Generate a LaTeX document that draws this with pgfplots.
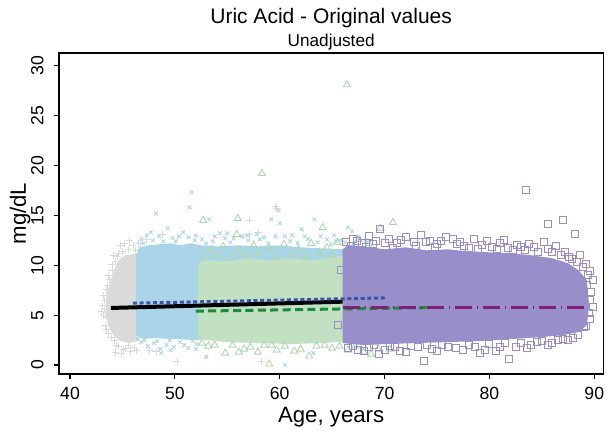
\documentclass[border=0pt]{standalone}
\usepackage{pgfplots}
\pgfplotsset{compat=1.18}
\usepackage{fontspec}
\setmainfont{Liberation Sans}
\definecolor{cgray}{RGB}{218,218,218}
\definecolor{cblue}{RGB}{170,213,232}
\definecolor{cgreen}{RGB}{194,224,194}
\definecolor{cgreenm}{RGB}{175,215,175}
\definecolor{cpurple}{RGB}{152,143,202}
\definecolor{lblue}{RGB}{58,84,168}
\definecolor{lgreen}{RGB}{26,138,60}
\definecolor{lpurple}{RGB}{126,32,118}
\begin{document}
\begin{tikzpicture}
\path[use as bounding box] (0,0) rectangle (306pt,218pt);
\begin{axis}[
  at={(29.5pt,31pt)}, anchor=south west,
  scale only axis, width=272.15pt, height=160.5pt,
  xmin=38.95, xmax=90.86, ymin=-0.9, ymax=31.28,
  clip mode=individual,
  xtick={40,50,60,70,80,90}, ytick={0,5,10,15,20,25,30},
  tick align=outside, xtick pos=bottom, ytick pos=left,
  major tick length=2.5pt,
  axis line style={line width=0.6pt},
  every tick/.style={black, line width=0.6pt},
  /pgf/number format/assume math mode=true,
  xticklabel style={font=\fontsize{8.8}{10}\selectfont, anchor=base, yshift=-10pt},
  yticklabel style={font=\fontsize{8.8}{10}\selectfont, xshift=-5.3pt, rotate=90, anchor=base},
  xlabel={Age, years}, ylabel={mg/dL},
  xlabel style={font=\fontsize{11.1}{13}\selectfont, at={(axis description cs:0.5,-0.1505)}, anchor=base},
  ylabel style={font=\fontsize{11.1}{13}\selectfont, at={(axis description cs:-0.061,0.5)}, anchor=base},
]
% dense cores
\addplot[draw=none, fill=cgray] coordinates {(43.4,5.8) (43.5,7.2) (43.9,8.5) (44.3,9.8) (44.7,10.6) (45.3,11.0) (46.5,11.2) (46.5,2.4) (45.6,2.2) (44.8,2.4) (44.2,2.9) (43.7,3.8) (43.4,4.8)};
\addplot[only marks, mark=+, mark size=1.75pt, color=cgray, line width=0.4pt] coordinates {
(43.3,6.5) (43.2,5.0) (43.4,4.0) (43.5,7.6) (43.8,8.6) (44.0,9.5) (44.3,10.4) (44.6,11.2) (44.8,12.0) (45.2,12.2) (45.6,11.6) (46.0,12.0) (46.5,12.2) (44.2,2.5) (44.6,1.9) (45.1,1.6) (45.6,2.0) (46.1,1.8) (43.7,3.2) (44.3,1.3) (45.3,1.7) (47.6,1.5) (48.2,1.4) (50.2,0.4) (58.3,0.4) (57.1,14.5) (59.7,15.7) (57.1,13.1) (48.8,13.1) (46.7,12.2) (47.3,12.6) (43.9,7.0) (43.6,4.8) (44.1,11.0) (45.0,11.4) (43.3,5.6) (44.9,1.2) (59.6,15.9) (58.0,13.3)
(43.1,6.0) (43.2,7.0) (43.6,8.0) (43.5,3.6) (43.9,2.8) (44.4,2.0) (45.8,1.4) (46.3,1.5) (44.5,10.9) (43.7,9.0) (45.7,12.5) (46.2,11.5) (43.0,5.4) (44.0,10.1)};
\addplot[draw=none, fill=cblue] coordinates {(46.3,11.0) (46.6,11.8) (47.5,12.0) (48.5,12.1) (49.5,12.2) (50.5,12.0) (51.5,12.2) (52.5,12.0) (54,11.9) (56,12.0) (58,11.9) (60,12.0) (62,11.8) (64,11.7) (66,11.6) (67,11.0) (67,3.0) (60,3.0) (53,2.6) (52,2.5) (50,2.6) (48,2.7) (47,2.6) (46.3,3.0)};
\addplot[only marks, mark=x, mark size=1.3pt, color=cblue, line width=0.45pt] coordinates {
(46.8,12.6) (47.3,13.0) (47.9,12.5) (48.5,12.9) (49.3,13.7) (49.8,12.7) (50.8,13.3) (51.3,12.8) (52.0,13.0) (52.6,12.6) (53.3,14.6) (53.8,12.9) (54.3,13.2) (55.0,13.2) (55.6,12.7) (56.4,12.9) (57.0,12.5) (57.8,13.1) (58.5,12.8) (59.2,14.6) (59.9,15.5) (60.0,14.2) (60.5,12.9) (61.2,13.0) (62.1,13.6) (62.7,12.6) (63.3,14.6) (63.9,12.9) (64.5,12.6) (65.2,13.0) (65.8,12.5) (66.5,13.8) (66.9,13.4) (67.5,12.8) (68.2,12.5) (48.2,15.2) (51.4,15.8) (51.6,17.3) (47.0,12.2) (50.1,12.4) (55.3,12.3) (61.7,12.2) (64.9,12.1) (53.0,12.2) (58.9,12.2)
(47.7,13.3) (48.9,12.4) (50.4,12.9) (51.9,12.5) (53.6,12.4) (54.8,12.7) (56.9,13.0) (58.1,12.6) (59.6,12.9) (61.0,12.4) (62.4,12.9) (63.6,12.3) (65.4,12.4) (66.2,12.3) (67.0,12.1)
(46.8,2.3) (47.4,1.9) (48.0,2.2) (48.6,1.6) (49.2,2.0) (49.9,1.8) (50.5,2.3) (51.3,1.7) (52.1,2.1) (48.7,1.2) (46.5,2.6) (60.5,0.0) (53.0,0.8) (63.2,1.2) (51.7,2.4) (49.5,2.5) (47.1,2.5) (48.3,2.4) (49.6,1.5) (50.9,2.0) (52.0,1.6)};
\addplot[draw=none, fill=cgreen] coordinates {(52.2,2.8) (52.2,10.2) (53,10.5) (55,10.4) (57,10.7) (59,10.5) (61,10.7) (63,10.5) (65,10.8) (66.5,11.0) (66.5,2.4) (64,2.2) (61,2.1) (58,2.2) (55,2.3) (53,2.5)};
\addplot[only marks, mark=triangle, mark size=2pt, color=cgreenm, line width=0.45pt] coordinates {
(52.7,14.5) (55.9,13.1) (56.0,14.7) (58.3,19.2) (64.1,13.8) (66.4,28.1) (70.8,14.3) (69.6,13.7) (73.2,11.4) (53.5,11.6) (54.6,11.9) (56.2,11.5) (57.5,12.0) (59.0,11.7) (60.4,12.1) (61.8,11.6) (63.0,12.2) (64.5,11.8) (65.5,12.3) (67.5,12.6) (68.5,12.2)
(52.8,10.8) (54.0,11.0) (55.2,10.7) (56.8,11.0) (58.0,11.2) (59.6,10.9) (61.2,11.1) (62.4,10.8) (63.8,11.2) (65.0,11.0) (66.2,11.3)
(54.8,1.2) (56.1,1.3) (59.0,0.1) (59.7,1.5) (53.2,1.9) (55.5,2.0) (57.2,1.8) (58.5,2.0) (60.5,1.9) (62.0,1.6) (63.5,1.9) (65.0,1.7) (66.5,1.5) (68.0,1.3) (68.7,1.1) (70.5,1.6) (62.8,0.9) (52.6,2.2)
(53.8,2.0) (56.6,1.6) (57.9,1.3) (59.2,2.0) (61.4,1.4) (64.3,2.0) (65.7,1.9) (67.2,1.9) (69.4,1.6)};
\addplot[draw=none, fill=cpurple] coordinates {(66.0,2.2) (66.0,11.6) (66.5,12.0) (68,11.9) (70,11.6) (72,11.8) (74,11.5) (76,11.6) (78,11.4) (80,11.3) (82,11.2) (84,11.0) (86,10.7) (87.5,10.2) (88.5,9.5) (89.3,8.5) (89.5,6) (89.3,4.0) (88.5,3.3) (87,3.0) (85,2.8) (82,2.6) (79,2.4) (76,2.3) (73,2.2) (70,2.1) (68,2.0)};
\addplot[only marks, mark=square, mark size=1.75pt, color=cpurple, line width=0.45pt] coordinates {
(66.3,12.3) (67.0,12.6) (67.8,12.2) (68.5,12.9) (69.2,12.4) (69.6,13.6) (70.4,12.6) (71.2,12.2) (72.0,12.8) (72.8,12.3) (73.5,13.0) (74.3,12.4) (75.0,12.1) (75.9,12.8) (76.5,12.6) (76.9,12.1) (77.6,11.9) (78.5,12.6) (79.3,12.0) (80.2,11.8) (81.0,12.2) (81.8,11.7) (82.6,12.0) (83.5,17.6) (83.4,11.5) (84.2,11.8) (85.2,12.3) (85.6,14.1) (86.0,11.3) (86.8,11.0) (87.0,14.5) (87.6,10.8) (88.2,13.1) (88.3,10.3) (88.9,9.8) (89.6,9.4) (89.9,8.5) (89.7,7.3) (89.9,5.8) (89.6,4.6) (89.0,3.8) (88.8,4.4)
(66.8,11.9) (67.4,12.4) (68.2,11.8) (68.9,12.1) (70.0,12.2) (70.8,11.7) (71.6,12.5) (73.0,11.9) (73.9,12.3) (74.8,11.8) (75.4,12.4) (77.2,12.3) (78.0,11.7) (78.9,11.6) (79.8,12.4) (80.7,11.6) (81.4,12.5) (82.2,11.5) (83.0,11.8) (83.8,12.1) (84.6,11.3) (85.6,11.6) (86.3,11.9) (87.2,11.3) (87.9,10.6) (88.6,11.0) (89.2,10.1) (89.4,9.0) (89.3,8.0) (89.6,6.5) (89.5,5.2) (89.2,3.9)
(66.5,1.7) (67.5,1.5) (68.5,1.8) (69.5,1.1) (70.5,1.9) (71.5,1.4) (72.5,1.9) (73.8,0.4) (74.5,1.6) (75.5,2.0) (76.8,1.7) (78.0,2.0) (79.1,1.2) (80.0,2.1) (81.0,1.8) (81.9,0.6) (83.0,2.2) (84.0,2.0) (85.0,2.4) (86.0,2.2) (87.0,2.6) (88.0,2.7) (65.6,4.0) (65.8,9.5)
(67.0,1.9) (68.0,1.4) (69.0,2.0) (70.0,1.5) (71.0,1.8) (72.0,1.3) (73.2,1.8) (74.0,2.0) (75.0,1.4) (76.0,1.8) (77.5,1.5) (78.6,1.8) (79.6,1.5) (80.6,1.4) (81.5,2.2) (82.5,1.8) (83.6,1.7) (84.5,2.3) (85.6,2.0) (86.5,2.5) (87.5,2.5) (88.4,3.0)};
% fitted lines
\addplot[black, line width=2pt] coordinates {(43.9,5.72) (66.0,6.35)};
\addplot[lblue, line width=1.5pt, dash pattern=on 2pt off 1.35pt] coordinates {(46.0,6.2) (70.1,6.73)};
\addplot[lgreen, line width=1.5pt, dash pattern=on 4pt off 2.2pt] coordinates {(52.0,5.4) (74.0,5.75)};
\addplot[lpurple, line width=1.5pt, dash pattern=on 8.5pt off 2.5pt on 0.5pt off 2.5pt] coordinates {(66.0,5.75) (89.3,5.75)};
\node[anchor=base, font=\fontsize{10.5}{12}\selectfont] at (axis description cs:0.5,1.0919) {Uric Acid - Original values};
\node[anchor=base, font=\fontsize{8.6}{10}\selectfont] at (axis description cs:0.5,1.0196) {Unadjusted};
\end{axis}
\end{tikzpicture}
\end{document}
